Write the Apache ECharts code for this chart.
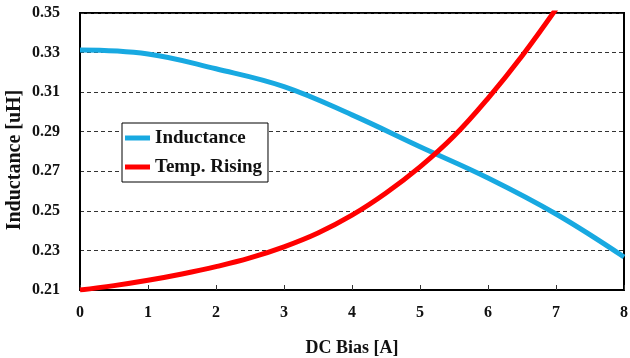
<!DOCTYPE html>
<html>
<head>
<meta charset="utf-8">
<script src="https://cdn.jsdelivr.net/npm/echarts@6/dist/echarts.min.js"></script>
<style>
  html, body { margin: 0; padding: 0; background: #fff; }
  #chart { width: 630px; height: 358px; }
</style>
</head>
<body>
<div id="chart"></div>
<script>
// DC bias current [A]
const dcBias = [0, 1, 2, 3, 4, 5, 6, 7, 8];
// Inductance [uH] versus DC bias
const inductance = [0.3313, 0.3293, 0.3218, 0.3128, 0.2985, 0.2824, 0.2666, 0.2484, 0.2267];
// Temperature rise curve, drawn on the same scale (runs off the top near 7 A)
const tempBias = [0, 0.5, 1, 1.5, 2, 2.5, 3, 3.5, 4, 4.5, 5, 5.5, 6, 6.5, 7];
const tempRising = [0.2100, 0.2122, 0.2149, 0.2181, 0.2218, 0.2262, 0.2318, 0.2388, 0.2478,
                    0.2590, 0.2722, 0.2878, 0.3069, 0.3283, 0.3520];
// Vertical range and step of the inductance axis
const yMin = 0.21, yMax = 0.35, yStep = 0.02;

const FONT = '"Liberation Serif", "Times New Roman", serif';

// The axis runs from 0 so ticks land on yMin + k*yStep; labels add yMin back.
const toPairs = (xs, ys) => xs.map((x, i) => [x, +(ys[i] - yMin).toFixed(6)]);

const chart = echarts.init(document.getElementById('chart'));
chart.setOption({
  animation: false,
  backgroundColor: '#fff',
  grid: {
    left: 80, right: 6, top: 13, bottom: 68,
    containLabel: false, outerBoundsMode: 'none',
    show: true, borderColor: '#000', borderWidth: 2, backgroundColor: 'transparent'
  },
  // Vertical axis title, set a little below the plot's middle
  graphic: [{
    type: 'text',
    x: 15, y: 160,
    rotation: Math.PI / 2,
    style: {
      text: 'Inductance [uH]',
      fontFamily: FONT, fontWeight: 'bold', fontSize: 20, fill: '#111',
      align: 'center', verticalAlign: 'middle'
    }
  }],
  legend: {
    orient: 'vertical',
    left: 122, top: 123,
    padding: [5, 6, 5, 3],
    itemGap: 9,
    itemWidth: 25, itemHeight: 5,
    icon: 'rect',
    backgroundColor: '#fff',
    borderColor: '#000', borderWidth: 1,
    textStyle: { fontFamily: FONT, fontWeight: 'bold', fontSize: 19, color: '#111', lineHeight: 20 },
    data: ['Inductance', 'Temp. Rising']
  },
  xAxis: {
    type: 'value', min: 0, max: 8, interval: 1,
    name: 'DC Bias [A]', nameLocation: 'middle', nameGap: 49,
    nameTextStyle: { fontFamily: FONT, fontWeight: 'bold', fontSize: 18, color: '#111' },
    axisLine: { show: true, lineStyle: { color: '#000', width: 2 } },
    axisTick: { show: true, inside: true, length: 5, lineStyle: { color: '#333', width: 1 } },
    axisLabel: { fontFamily: FONT, fontWeight: 'bold', fontSize: 16, color: '#111', margin: 15 },
    splitLine: { show: false }
  },
  yAxis: {
    type: 'value', min: 0, max: +(yMax - yMin).toFixed(6), interval: yStep,
    axisLine: { show: true, lineStyle: { color: '#000', width: 2 } },
    axisTick: { show: false },
    axisLabel: {
      fontFamily: FONT, fontWeight: 'bold', fontSize: 16, color: '#111', margin: 20,
      formatter: v => (v + yMin).toFixed(2)
    },
    splitLine: { show: true, lineStyle: { color: '#333', width: 1, type: [4, 3] } }
  },
  series: [
    {
      name: 'Inductance', type: 'line', smooth: 0.4, showSymbol: false,
      data: toPairs(dcBias, inductance),
      lineStyle: { color: '#18a9e1', width: 5 },
      itemStyle: { color: '#18a9e1' }
    },
    {
      name: 'Temp. Rising', type: 'line', smooth: 0.4, showSymbol: false, clip: true,
      data: toPairs(tempBias, tempRising),
      lineStyle: { color: '#ff0000', width: 5 },
      itemStyle: { color: '#ff0000' }
    }
  ]
});
</script>
</body>
</html>
